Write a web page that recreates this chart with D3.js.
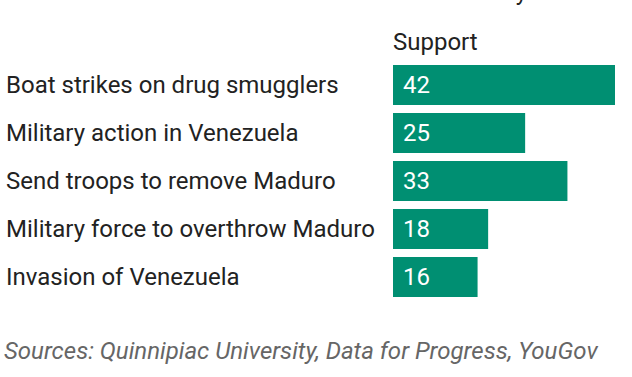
<!DOCTYPE html>
<html>
<head>
<meta charset="utf-8">
<script src="https://cdn.jsdelivr.net/npm/d3@7"></script>
<style>
  body { margin: 0; background: #fff; }
  text { font-family: Roboto, "Noto Sans", sans-serif; }
</style>
</head>
<body>
<div class="chart"></div>
<script>
var svgWidth = 632;
var svgHeight = 377;

var categories = [
  "Boat strikes on drug smugglers",
  "Military action in Venezuela",
  "Send troops to remove Maduro",
  "Military force to overthrow Maduro",
  "Invasion of Venezuela"
];
var support = [42, 25, 33, 18, 16];

var barLeft = 393;

var svg = d3.select(".chart")
  .append("svg")
  .attr("width", svgWidth)
  .attr("height", svgHeight);

var xScale = d3.scaleLinear()
  .domain([0, 42])
  .range([barLeft, 615]);

var yScale = d3.scaleBand()
  .domain(categories)
  .range([61, 301])
  .paddingInner(8 / 48)
  .paddingOuter(4 / 48);

// header line sits above the visible area, only the last descender shows
svg.append("text")
  .attr("x", 527)
  .attr("y", 0)
  .attr("text-anchor", "end")
  .attr("font-size", "24px")
  .attr("fill", "#222")
  .text("Recent national survey");

svg.append("text")
  .attr("x", barLeft)
  .attr("y", 50)
  .attr("font-size", "24px")
  .attr("fill", "#222")
  .text("Support");

var rows = categories.map(function (c, i) { return { cat: c, val: support[i] }; });

svg.selectAll(".bar")
  .data(rows)
  .enter()
  .append("rect")
  .attr("class", "bar")
  .attr("x", xScale(0))
  .attr("y", d => yScale(d.cat))
  .attr("width", d => xScale(d.val) - xScale(0))
  .attr("height", yScale.bandwidth())
  .attr("fill", "#008f72");

svg.selectAll(".cat")
  .data(rows)
  .enter()
  .append("text")
  .attr("class", "cat")
  .attr("x", 6)
  .attr("y", d => yScale(d.cat) + yScale.bandwidth() / 2)
  .attr("dy", "0.35em")
  .attr("font-size", "24px")
  .attr("fill", "#222")
  .text(d => d.cat);

svg.selectAll(".val")
  .data(rows)
  .enter()
  .append("text")
  .attr("class", "val")
  .attr("x", xScale(0) + 10)
  .attr("y", d => yScale(d.cat) + yScale.bandwidth() / 2)
  .attr("dy", "0.35em")
  .attr("font-size", "24px")
  .attr("fill", "#fff")
  .text(d => d.val);

svg.append("text")
  .attr("x", 4)
  .attr("y", 359)
  .attr("font-size", "24px")
  .attr("font-style", "italic")
  .attr("fill", "#666")
  .text("Sources: Quinnipiac University, Data for Progress, YouGov");
</script>
</body>
</html>
